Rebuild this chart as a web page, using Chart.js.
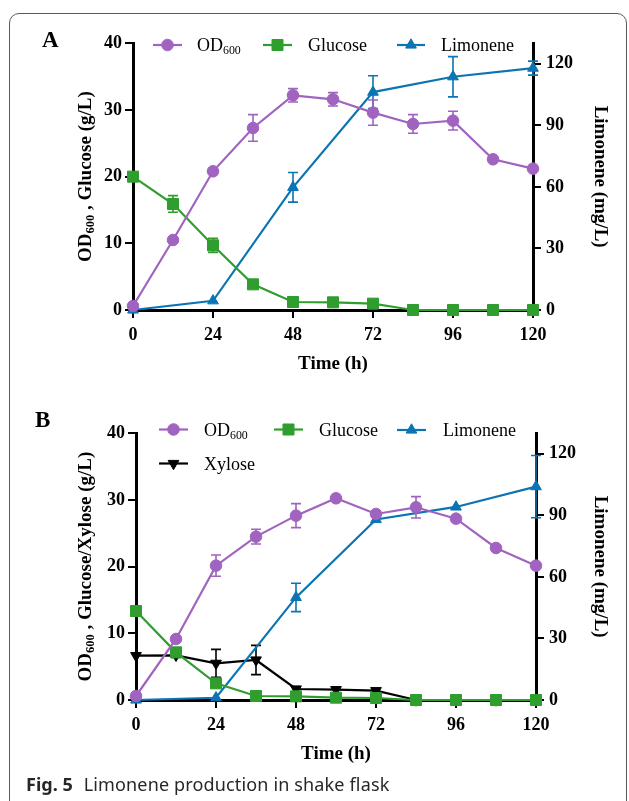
<!DOCTYPE html>
<html>
<head>
<meta charset="utf-8">
<title>Fig. 5 Limonene production in shake flask</title>
<script src="https://cdn.jsdelivr.net/npm/chart.js@4.4.1/dist/chart.umd.min.js"></script>
<style>
    html, body { margin: 0; padding: 0; background: #fff; }
    #page { position: relative; width: 629px; height: 801px; overflow: hidden; background: #fff; }
    #frame {
        position: absolute; left: 9px; top: 13px; width: 618px; height: 830px;
        box-sizing: border-box; border: 1px solid #5a5a5a; border-radius: 10px;
    }
    .panel { position: absolute; left: 0; width: 629px; height: 390px; }
    #panel-a { top: 0; }
    #panel-b { top: 390px; }
    .tag { position: absolute; font: bold 23px "Liberation Serif", serif; line-height: 23px; color: #000; }
    #caption {
        position: absolute; left: 26px; top: 772px; line-height: 24px;
        font: 18px "Noto Sans", sans-serif; color: #2a2627; white-space: nowrap;
        letter-spacing: 0.15px;
    }
    #caption b { margin-right: 11px; letter-spacing: 0; }
</style>
</head>
<body>
<div id="page">
    <div id="frame"></div>
    <div class="panel" id="panel-a"><canvas id="chart-a"></canvas></div>
    <div class="panel" id="panel-b"><canvas id="chart-b"></canvas></div>
    <div class="tag" style="left:42px; top:28px;">A</div>
    <div class="tag" style="left:35px; top:408px;">B</div>
    <div id="caption"><b>Fig. 5</b>Limonene production in shake flask</div>
</div>
<script>
// DATA

const hours = [0, 12, 24, 36, 48, 60, 72, 84, 96, 108, 120];
const limoneneHours = [0, 24, 48, 72, 96, 120];

const xTicks = [0, 24, 48, 72, 96, 120];
const leftTicks = [0, 10, 20, 30, 40];
const rightTicks = [0, 30, 60, 90, 120];

// panel A
const odA = [0.6, 10.5, 20.8, 27.3, 32.2, 31.6, 29.6, 27.9, 28.4, 22.6, 21.2];
const odAErr = [0, 0, 0, 2.0, 1.0, 1.0, 1.9, 1.4, 1.4, 0.3, 0];
const glucoseA = [20.0, 15.9, 9.7, 3.85, 1.2, 1.15, 0.95, 0, 0, 0, 0];
const glucoseAErr = [0, 1.25, 1.05, 0, 0, 0, 0, 0, 0, 0, 0];
const limoneneA = [0, 4.5, 59.8, 106.2, 113.7, 117.9];
const limoneneAErr = [0, 0, 7.2, 8.0, 9.8, 3.4];

// panel B
const odB = [0.6, 9.15, 20.15, 24.5, 27.65, 30.25, 27.9, 28.9, 27.2, 22.8, 20.15];
const odBErr = [0, 0, 1.6, 1.1, 1.8, 0, 0, 1.6, 0, 0, 0];
const glucoseB = [13.35, 7.15, 2.5, 0.6, 0.55, 0.35, 0.3, 0, 0, 0, 0];
const xyloseB = [6.65, 6.7, 5.5, 6.0, 1.65, 1.55, 1.4, 0, 0, 0, 0];
const xyloseBErr = [0, 0.3, 2.1, 2.2, 0, 0, 0, 0, 0, 0, 0];
const limoneneB = [0, 1.1, 50.0, 88.0, 94.1, 104.0];
const limoneneBErr = [0, 0, 6.9, 0, 0, 15.2];

// STYLE

const PURPLE = '#a063bf';
const GREEN = '#2f9e2f';
const BLUE = '#0b74b3';
const BLACK = '#000000';
const SERIF = '"Liberation Serif", "Times New Roman", serif';

const toPoints = (xs, ys) => xs.map((x, i) => ({ x: x, y: ys[i] }));

function series(label, xs, ys, errs, color, style, axis) {
    return {
        label: label,
        data: toPoints(xs, ys),
        errors: errs,
        yAxisID: axis,
        borderColor: color,
        backgroundColor: color,
        borderWidth: 2.2,
        pointStyle: style.shape,
        rotation: style.rotation || 0,
        pointRadius: style.radius,
        pointHoverRadius: style.radius,
        pointBorderWidth: 1,
        tension: 0,
        clip: false
    };
}

const CIRCLE = { shape: 'circle', radius: 5.8 };
const SQUARE = { shape: 'rect', radius: 7.8 };
const TRIANGLE = { shape: 'triangle', radius: 6.2 };
const DOWN_TRIANGLE = { shape: 'triangle', radius: 6.2, rotation: 180 };

// PLUGINS

const errorBars = {
    id: 'errorBars',
    beforeDatasetDraw(chart, args) {
        const ds = chart.data.datasets[args.index];
        if (!ds.errors) return;
        const yScale = chart.scales[args.meta.yAxisID];
        const ctx = chart.ctx;
        ctx.save();
        ctx.strokeStyle = ds.borderColor;
        ctx.lineWidth = 1.6;
        args.meta.data.forEach((pt, i) => {
            const err = ds.errors[i];
            if (!err) return;
            const v = ds.data[i].y;
            const top = yScale.getPixelForValue(v + err);
            const bot = yScale.getPixelForValue(v - err);
            ctx.beginPath();
            ctx.moveTo(pt.x, top); ctx.lineTo(pt.x, bot);
            ctx.moveTo(pt.x - 5, top); ctx.lineTo(pt.x + 5, top);
            ctx.moveTo(pt.x - 5, bot); ctx.lineTo(pt.x + 5, bot);
            ctx.stroke();
        });
        ctx.restore();
    }
};

// text with an optional subscript part, drawn from x along the baseline
function drawRich(ctx, parts, x, y, size, weight) {
    parts.forEach(p => {
        const s = p.sub ? size * 0.66 : size;
        ctx.font = weight + ' ' + s + 'px ' + SERIF;
        ctx.fillText(p.text, x, p.sub ? y + size * 0.17 : y);
        x += ctx.measureText(p.text).width;
    });
    return x;
}

function richWidth(ctx, parts, size, weight) {
    let w = 0;
    parts.forEach(p => {
        ctx.font = weight + ' ' + (p.sub ? size * 0.66 : size) + 'px ' + SERIF;
        w += ctx.measureText(p.text).width;
    });
    return w;
}

const panelText = {
    id: 'panelText',
    afterDraw(chart, args, opts) {
        const ctx = chart.ctx;
        const area = chart.chartArea;
        const midY = (area.top + area.bottom) / 2;
        ctx.save();
        ctx.fillStyle = '#000';
        ctx.textBaseline = 'alphabetic';
        ctx.textAlign = 'left';

        // left title, reads bottom to top
        ctx.save();
        ctx.translate(opts.leftX, midY);
        ctx.rotate(-Math.PI / 2);
        const lw = richWidth(ctx, opts.leftTitle, 19, 'bold');
        drawRich(ctx, opts.leftTitle, -lw / 2, 0, 19, 'bold');
        ctx.restore();

        // right title, reads top to bottom
        ctx.save();
        ctx.translate(opts.rightX, midY);
        ctx.rotate(Math.PI / 2);
        ctx.font = 'bold 19px ' + SERIF;
        ctx.textAlign = 'center';
        ctx.fillText(opts.rightTitle, 0, 0);
        ctx.restore();

        // x title
        ctx.font = 'bold 19px ' + SERIF;
        ctx.textAlign = 'center';
        ctx.fillText(opts.xTitle, (area.left + area.right) / 2, opts.xTitleY);

        // legend
        ctx.textAlign = 'left';
        opts.legend.forEach(item => {
            const ds = chart.data.datasets[item.index];
            ctx.strokeStyle = ds.borderColor;
            ctx.fillStyle = ds.backgroundColor;
            ctx.lineWidth = 2.2;
            ctx.beginPath();
            ctx.moveTo(item.x1, item.y);
            ctx.lineTo(item.x2, item.y);
            ctx.stroke();
            ctx.lineWidth = 1;
            Chart.helpers.drawPoint(ctx, {
                pointStyle: ds.pointStyle,
                rotation: ds.rotation,
                radius: ds.pointRadius,
                borderWidth: 1
            }, (item.x1 + item.x2) / 2, item.y);
            ctx.fillStyle = '#000';
            drawRich(ctx, item.text, item.textX, item.y + 6.3, 18, 'normal');
        });
        ctx.restore();
    }
};

// PANELS

function makePanel(canvas, datasets, areaLeft, leftTitle, leftX, legend) {
    const W = 629, H = 390;
    const areaRight = areaLeft + 400, areaTop = 43.3, areaBottom = 310;
    const tickFont = { family: SERIF, size: 18, weight: 'bold' };
    const axisLook = {
        grid: { display: true, drawOnChartArea: false, drawTicks: true, tickLength: 8, color: BLACK, lineWidth: 2 },
        border: { display: true, color: BLACK, width: 3 }
    };
    return new Chart(canvas, {
        type: 'line',
        data: { datasets: datasets },
        options: {
            responsive: true,
            maintainAspectRatio: false,
            animation: false,
            events: [],
            layout: { padding: { top: areaTop, left: 0, right: 0, bottom: 0 } },
            scales: {
                x: Object.assign({
                    type: 'linear', min: 0, max: 120,
                    afterFit: s => { s.height = H - areaBottom; },
                    afterBuildTicks: s => { s.ticks = xTicks.map(v => ({ value: v })); },
                    ticks: { font: tickFont, color: BLACK, padding: 7, maxRotation: 0 }
                }, axisLook),
                y: Object.assign({
                    position: 'left', min: 0, max: 40,
                    afterFit: s => { s.width = areaLeft; },
                    afterBuildTicks: s => { s.ticks = leftTicks.map(v => ({ value: v })); },
                    ticks: { font: tickFont, color: BLACK, padding: 3 }
                }, axisLook),
                y1: Object.assign({
                    position: 'right', min: 0, max: 130,
                    afterFit: s => { s.width = W - areaRight; },
                    afterBuildTicks: s => { s.ticks = rightTicks.map(v => ({ value: v })); },
                    ticks: { font: tickFont, color: BLACK, padding: 5 }
                }, axisLook)
            },
            plugins: {
                legend: { display: false },
                tooltip: { enabled: false },
                panelText: {
                    leftTitle: leftTitle,
                    leftX: leftX,
                    rightTitle: 'Limonene (mg/L)',
                    rightX: 595,
                    xTitle: 'Time (h)',
                    xTitleY: 369,
                    legend: legend
                }
            }
        },
        plugins: [errorBars, panelText]
    });
}

const OD_LABEL = [{ text: 'OD' }, { text: '600', sub: true }];

const chartA = makePanel(
    document.getElementById('chart-a'),
    [
        series('OD600', hours, odA, odAErr, PURPLE, CIRCLE, 'y'),
        series('Glucose', hours, glucoseA, glucoseAErr, GREEN, SQUARE, 'y'),
        series('Limonene', limoneneHours, limoneneA, limoneneAErr, BLUE, TRIANGLE, 'y1')
    ],
    133,
    [{ text: 'OD' }, { text: '600', sub: true }, { text: ' , Glucose (g/L)' }],
    91,
    [
        { index: 0, x1: 153, x2: 182, textX: 197, y: 45, text: OD_LABEL },
        { index: 1, x1: 263, x2: 292, textX: 308, y: 45, text: [{ text: 'Glucose' }] },
        { index: 2, x1: 397, x2: 425, textX: 441, y: 45, text: [{ text: 'Limonene' }] }
    ]
);

const chartB = makePanel(
    document.getElementById('chart-b'),
    [
        series('OD600', hours, odB, odBErr, PURPLE, CIRCLE, 'y'),
        series('Glucose', hours, glucoseB, null, GREEN, SQUARE, 'y'),
        series('Limonene', limoneneHours, limoneneB, limoneneBErr, BLUE, TRIANGLE, 'y1'),
        series('Xylose', hours, xyloseB, xyloseBErr, BLACK, DOWN_TRIANGLE, 'y')
    ],
    136,
    [{ text: 'OD' }, { text: '600', sub: true }, { text: ' , Glucose/Xylose (g/L)' }],
    91,
    [
        { index: 0, x1: 159, x2: 188, textX: 204, y: 39.5, text: OD_LABEL },
        { index: 1, x1: 274, x2: 303, textX: 319, y: 39.5, text: [{ text: 'Glucose' }] },
        { index: 2, x1: 397, x2: 426, textX: 443, y: 40, text: [{ text: 'Limonene' }] },
        { index: 3, x1: 159, x2: 188, textX: 204, y: 73.5, text: [{ text: 'Xylose' }] }
    ]
);
</script>
</body>
</html>
